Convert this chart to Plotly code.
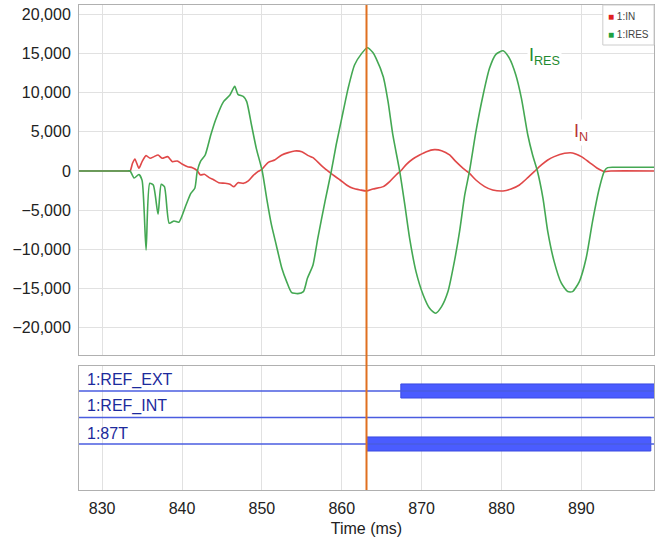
import plotly.graph_objects as go

# ---------------- data ----------------
t_ires = [827.1, 833.2, 833.5, 834.0, 834.6, 835.0, 835.5, 835.96, 836.4, 837.0, 837.4, 837.8,
          838.4, 839.0, 839.6, 840.5, 841.1, 841.6, 841.9, 842.3, 842.9, 843.6, 844.2,
          845.2, 846.0, 846.6, 847.0, 847.7, 848.1, 848.7, 849.3, 850.04, 850.6, 851.2,
          851.8, 852.5, 853.1, 853.7, 854.5, 855.2, 855.7, 856.4, 857.0, 857.9, 858.7,
          859.3, 860.0, 860.8, 861.6, 862.5, 863.2, 863.9, 864.3, 865.2, 865.8, 866.4,
          867.25, 867.9, 868.5, 869.3, 870.2, 871.0, 871.75, 872.5, 873.3, 874.1, 874.75,
          875.4, 876.0, 876.8, 877.7, 878.5, 879.3, 880.2, 881.0, 881.8, 882.5, 883.3,
          883.9, 884.5, 885.2, 885.8, 886.6, 887.5, 888.3, 888.9, 889.75, 890.6, 891.4,
          892.25, 892.9, 893.3, 894.1, 899.1]
ires = [0, 0, 0, -900, -450, -1200, -10070, -1570, -1800, -5525, -1700, -2000,
        -6670, -6375, -6545, -4335, -2850, -2210, -85, 1190, 2040, 4590, 6500,
        8840, 9690, 10800, 9775, 9480, 8840, 5865, 2890, 0, -3485, -6885,
        -9435, -12410, -14110, -15470, -15640, -15385, -13685, -11985, -8585, -3910, 0,
        3315, 6715, 10540, 13515, 15000, 15725, 15100, 14365, 12030, 8840, 4590,
        0, -4335, -8585, -12835, -15810, -17510, -18150, -17300, -15385, -11560, -7735,
        -3060, 0, 5015, 9690, 13090, 14875, 15340, 14365, 12240, 9265, 4590,
        2040, 0, -3485, -7735, -11560, -14320, -15385, -15385, -14110, -11135, -6460,
        -2210, 0, 425, 470, 470]

t_in = [827.1, 833.2, 833.5, 833.8, 834.1, 834.6, 835.0, 835.5, 836.0, 836.5, 837.0, 837.5,
        838.2, 838.8, 839.4, 840.0, 840.7, 841.3, 841.9, 842.3, 842.8, 843.4, 844.0,
        844.6, 845.4, 846.0, 846.5, 847.0, 847.7, 848.3, 848.9, 849.5, 850.0, 850.8,
        851.6, 852.5, 853.3, 854.1, 855.0, 855.8, 856.4, 857.3, 858.1, 858.9, 859.8,
        860.6, 861.4, 862.3, 863.1, 863.9, 865.2, 866.0, 866.8, 867.5, 868.1, 868.9,
        869.75, 870.6, 871.6, 872.5, 873.5, 874.3, 875.2, 876.0, 876.8, 877.9, 878.9,
        880.2, 881.2, 882.25, 883.3, 884.1, 885.0, 885.8, 886.6, 887.9, 888.9, 890.0,
        891.0, 892.0, 892.9, 893.7, 899.1]
i_n = [0, 0, 0, 980, 1530, 340, 1190, 1955, 1615, 1830, 2040, 1615,
       1830, 1190, 1275, 890, 550, 425, 40, -510, -425, -850, -1150,
       -1490, -1575, -1700, -2000, -1490, -1575, -1275, -595, -85, 210, 1105,
       1400, 2040, 2340, 2550, 2465, 1955, 1700, 850, 130, -510, -1150,
       -1785, -2210, -2420, -2550, -2300, -2000, -1360, -510, 130, 850, 1530,
       2040, 2465, 2720, 2590, 2040, 1190, 340, -300, -1150, -2000, -2420,
       -2550, -2300, -1785, -850, -85, 765, 1400, 1830, 2250, 2300, 1830,
       1105, 340, -85, 0, 0]

y_ticks = [-20000, -15000, -10000, -5000, 0, 5000, 10000, 15000, 20000]
x_ticks = [830, 840, 850, 860, 870, 880, 890]

cursor_t = 863.1
channels = ["1:REF_EXT", "1:REF_INT", "1:87T"]
on_start = [867.4, None, 863.1]
on_end = [899.2, None, 898.7]

series_names = ["1:IN", "1:IRES"]

x_range = [827.1, 899.1]

# ---------------- styles ----------------
RED = "#e04848"
GREEN = "#44a853"
BLUE_BAR = "#4a5cff"
BLUE_LINE = "#4a5ce0"
NAVY = "#1c2a9c"
GRID = "#e1e1e1"
FRAME = "#b0b0b0"
FONT = "Liberation Sans, Arial, sans-serif"

fig = go.Figure()

fig.add_trace(go.Scatter(x=t_in, y=i_n, mode="lines", name=series_names[0],
                         line=dict(color=RED, width=1.6, shape="spline", smoothing=0.6),
                         showlegend=False, xaxis="x", yaxis="y"))
fig.add_trace(go.Scatter(x=t_ires, y=ires, mode="lines", name=series_names[1],
                         line=dict(color=GREEN, width=1.6, shape="spline", smoothing=0.6),
                         showlegend=False, xaxis="x", yaxis="y"))

# digital channels
n = len(channels)
for i, ch in enumerate(channels):
    pos = n - i
    fig.add_trace(go.Scatter(x=x_range, y=[pos, pos], mode="lines",
                             line=dict(color=BLUE_LINE, width=1.4),
                             showlegend=False, xaxis="x2", yaxis="y2", hoverinfo="skip"))
    if on_start[i] is not None:
        fig.add_trace(go.Bar(orientation="h", y=[pos], base=[on_start[i]],
                             x=[on_end[i] - on_start[i]], width=0.53,
                             marker=dict(color=BLUE_BAR, line=dict(color="#3a4ae0", width=1)),
                             showlegend=False, xaxis="x2", yaxis="y2"))
    fig.add_annotation(x=x_range[0], y=pos, xref="x2", yref="y2", text=ch,
                       showarrow=False, xanchor="left", yanchor="bottom",
                       xshift=6, yshift=0, font=dict(size=16, color=NAVY, family=FONT))

fig.add_shape(type="line", xref="x", yref="paper", x0=cursor_t, x1=cursor_t, y0=0, y1=1,
              line=dict(color="#e07020", width=2))

fig.add_annotation(x=885.4, y=14540, xref="x", yref="y", text="I<sub>RES</sub>",
                   showarrow=False, bgcolor="white",
                   font=dict(size=18, color="#1f8a30", family=FONT))
fig.add_annotation(x=890.0, y=4850, xref="x", yref="y", text="I<sub>N</sub>",
                   showarrow=False, bgcolor="white",
                   font=dict(size=18, color="#b83434", family=FONT))

# compact legend box (top right)
fig.add_shape(type="rect", xref="paper", yref="paper", x0=0.911, x1=1.0, y0=0.9175, y1=1.0,
              line=dict(color="#cccccc", width=1), fillcolor="white", layer="above")
legend_colors = ["#e02020", "#20a040"]
legend_y = [0.9773, 0.9402]
for name, col, ly in zip(series_names, legend_colors, legend_y):
    fig.add_annotation(xref="paper", yref="paper", x=0.9175, y=ly, xanchor="left",
                       yanchor="middle", showarrow=False, borderpad=0,
                       text=f'<span style="color:{col}">■</span> {name}',
                       font=dict(size=10, color="#444444", family=FONT))

axis_common = dict(showline=True, mirror=True, linecolor=FRAME, linewidth=1,
                   gridcolor=GRID, gridwidth=1, zeroline=False, ticks="")

fig.update_layout(
    width=655, height=541,
    margin=dict(l=79, r=1, t=5, b=51),
    paper_bgcolor="white", plot_bgcolor="white",
    font=dict(family=FONT, size=16, color="#222222"),
    barmode="overlay",
    showlegend=False,
    xaxis=dict(domain=[0, 1], anchor="y", range=x_range, tickvals=x_ticks,
               showticklabels=False, **axis_common),
    yaxis=dict(domain=[0.2784, 1], anchor="x", range=[-23470, 21170], tickvals=y_ticks,
               tickformat=",", ticklabelstandoff=4, **axis_common),
    xaxis2=dict(domain=[0, 1], anchor="y2", range=x_range, tickvals=x_ticks, matches="x",
                ticklabelstandoff=4,
                title=dict(text="Time (ms)", standoff=6, font=dict(size=16)),
                **axis_common),
    yaxis2=dict(domain=[0, 0.2557], anchor="x2", range=[-0.736, 3.943],
                showgrid=False, showticklabels=False, **axis_common),
)

fig.write_html("out.html")
